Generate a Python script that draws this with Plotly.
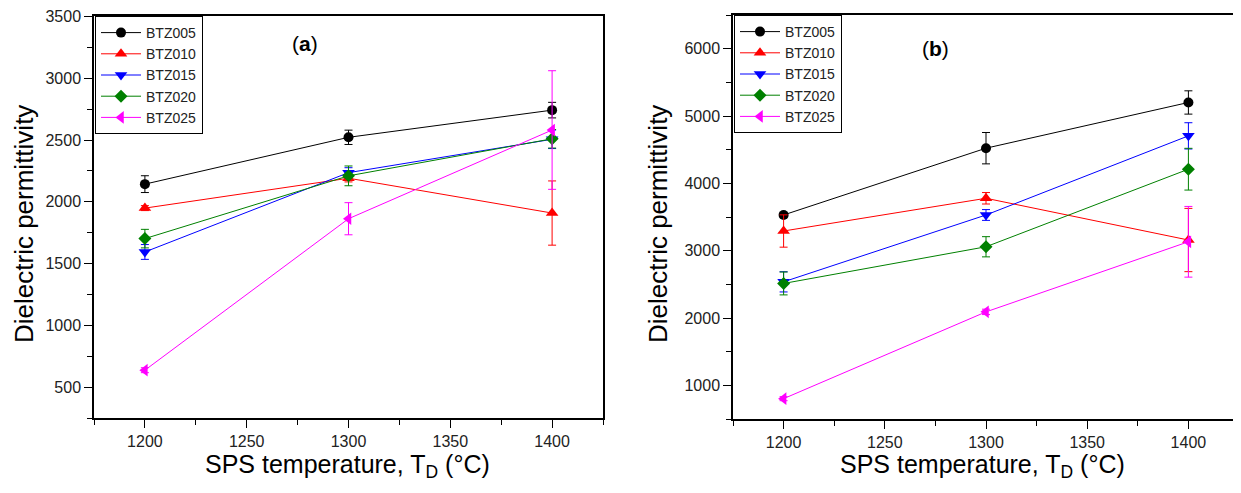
import plotly.graph_objects as go

# The page body adds an 8px margin, so the figure is made 8px smaller
# and all layout positions are expressed in window pixels minus 8.
OFF = 8
W, H = 1241 - OFF, 493 - OFF

temps = [1200, 1300, 1400]
series_names = ["BTZ005", "BTZ010", "BTZ015", "BTZ020", "BTZ025"]

# Panel (a)
a_btz005 = [2143, 2522, 2742]
a_btz010 = [1949, 2191, 1909]
a_btz015 = [1594, 2236, 2506]
a_btz020 = [1702, 2210, 2510]
a_btz025 = [637, 1863, 2581]
a_err005 = [68, 58, 63]
a_err010 = [20, 30, 260]
a_err015 = [60, 40, 75]
a_err020 = [75, 80, 75]
a_err025 = [20, 130, 480]

# Panel (b)
b_btz005 = [3530, 4522, 5201]
b_btz010 = [3292, 3778, 3158]
b_btz015 = [2537, 3530, 4705]
b_btz020 = [2513, 3058, 4210]
b_btz025 = [802, 2091, 3132]
b_err005 = [40, 233, 173]
b_err010 = [240, 85, 470]
b_err015 = [150, 80, 195]
b_err020 = [170, 150, 310]
b_err025 = [30, 40, 525]

a_vals = [a_btz005, a_btz010, a_btz015, a_btz020, a_btz025]
a_errs = [a_err005, a_err010, a_err015, a_err020, a_err025]
b_vals = [b_btz005, b_btz010, b_btz015, b_btz020, b_btz025]
b_errs = [b_err005, b_err010, b_err015, b_err020, b_err025]

colors = ["#000000", "#FF0000", "#0000FF", "#008000", "#FF00FF"]
symbols = ["circle", "triangle-up", "triangle-down", "diamond", "triangle-left"]
sizes = [10, 11, 11, 10, 11]

FONT = "Arial, Liberation Sans, sans-serif"

fig = go.Figure()

for panel, (vals, errs, xa, ya, lg) in enumerate([
    (a_vals, a_errs, "x", "y", "legend"),
    (b_vals, b_errs, "x2", "y2", "legend2"),
]):
    for i, name in enumerate(series_names):
        fig.add_trace(go.Scatter(
            x=temps, y=vals[i], name=name, mode="lines+markers",
            xaxis=xa, yaxis=ya, legend=lg,
            line=dict(color=colors[i], width=1),
            marker=dict(symbol=symbols[i], size=sizes[i], color=colors[i],
                        line=dict(width=0)),
            error_y=dict(type="data", array=errs[i], visible=True,
                         color=colors[i], thickness=1, width=4),
        ))

def px_x(p):
    return (p - OFF) / W

def px_y(p):
    return (H - (p - OFF)) / H

axis_common = dict(
    showline=True, linecolor="black", linewidth=1.5, mirror=True,
    ticks="outside", ticklen=8, tickwidth=1, tickcolor="black",
    showgrid=False, zeroline=False, automargin=False,
    tickfont=dict(family=FONT, size=16, color="#222"),
)

legend_common = dict(
    xanchor="left", yanchor="top",
    bgcolor="white", bordercolor="black", borderwidth=1,
    font=dict(family=FONT, size=14, color="#222"),
    tracegroupgap=0, itemwidth=40,
)

fig.update_layout(
    width=W, height=H,
    margin=dict(l=0, r=0, t=0, b=0, autoexpand=False),
    paper_bgcolor="white", plot_bgcolor="white",
    font=dict(family=FONT, color="black"),
    showlegend=True,
    xaxis=dict(domain=[px_x(94), px_x(603)], range=[1175, 1425],
               tick0=1200, dtick=50, anchor="y",
               minor=dict(tick0=1175, dtick=25, ticks="outside", ticklen=5,
                          tickcolor="black", showgrid=False),
               **axis_common),
    yaxis=dict(domain=[px_y(418), px_y(16)], range=[250, 3504], tick0=500,
               dtick=500, anchor="x",
               minor=dict(tick0=250, dtick=250, ticks="outside", ticklen=5,
                          tickcolor="black", showgrid=False),
               **axis_common),
    xaxis2=dict(domain=[px_x(733), px_x(1239)], range=[1175, 1425],
                tick0=1200, dtick=50, anchor="y2",
                minor=dict(tick0=1175, dtick=25, ticks="outside", ticklen=5,
                           tickcolor="black", showgrid=False),
                **axis_common),
    yaxis2=dict(domain=[px_y(419), px_y(15)], range=[500, 6500], tick0=1000,
                dtick=1000, anchor="x2",
                minor=dict(tick0=500, dtick=500, ticks="outside", ticklen=5,
                           tickcolor="black", showgrid=False),
                **axis_common),
    legend=dict(x=px_x(95), y=px_y(16), **legend_common),
    legend2=dict(x=px_x(734), y=px_y(15), **legend_common),
)

annos = [
    dict(text="(<b>a</b>)", x=px_x(305), y=px_y(44)),
    dict(text="(<b>b</b>)", x=px_x(935), y=px_y(48)),
]
for a in annos:
    fig.add_annotation(xref="paper", yref="paper", showarrow=False,
                       xanchor="center", yanchor="middle",
                       font=dict(family=FONT, size=21, color="black"), **a)

xtitle = "SPS temperature, T<sub>D</sub> (°C)"
for cx in (347, 982):
    fig.add_annotation(text=xtitle, xref="paper", yref="paper",
                       x=px_x(cx), y=px_y(466), showarrow=False,
                       xanchor="center", yanchor="middle",
                       font=dict(family=FONT, size=25, color="black"))
for cx in (24, 658):
    fig.add_annotation(text="Dielectric permittivity", xref="paper", yref="paper",
                       x=px_x(cx), y=px_y(224), showarrow=False, textangle=-90,
                       xanchor="center", yanchor="middle",
                       font=dict(family=FONT, size=26, color="black"))

fig.write_html("out.html")
